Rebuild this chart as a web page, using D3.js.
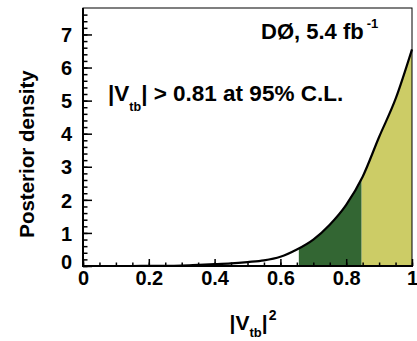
<!DOCTYPE html>
<html>
<head>
<meta charset="utf-8">
<script src="https://cdn.jsdelivr.net/npm/d3@7"></script>
<style>
  body { margin: 0; background: #fff; }
  svg text { font-family: "Liberation Sans", Arial, Helvetica, sans-serif; font-weight: bold; fill: #000; }
</style>
</head>
<body>
<div id="chart"></div>
<script>
// posterior density, |Vtb|^2 in steps of 0.05
const vtb2 = [0, 0.05, 0.1, 0.15, 0.2, 0.25, 0.3, 0.35, 0.4, 0.45, 0.5, 0.55, 0.6, 0.65, 0.7, 0.75, 0.8, 0.85, 0.9, 0.95, 1.0];
const density = [0, 0, 0, 0, 0.002, 0.005, 0.015, 0.035, 0.055, 0.08, 0.12, 0.17, 0.28, 0.5, 0.8, 1.25, 1.85, 2.7, 3.9, 5.05, 6.55];
// shaded bands: 95% C.L. (|Vtb| > 0.81) and inner band
const limit95 = 0.656;
const limitInner = 0.847;
const xTicks = [0, 0.2, 0.4, 0.6, 0.8, 1];
const yTicks = [0, 1, 2, 3, 4, 5, 6, 7];

const width = 417, height = 341;
const mLeft = 83, mRight = 412, mTop = 8, mBottom = 266;

const svg = d3.select('#chart').append('svg')
  .attr('width', width)
  .attr('height', height);

const x = d3.scaleLinear().domain([0, 1]).range([mLeft, mRight]);
const y = d3.scaleLinear().domain([0, 7.8]).range([mBottom, mTop]);

const pts = vtb2.map((v, i) => [v, density[i]]);

const area = d3.area()
  .x(d => x(d[0]))
  .y0(y(0))
  .y1(d => y(d[1]))
  .curve(d3.curveMonotoneX);

const line = d3.line()
  .x(d => x(d[0]))
  .y(d => y(d[1]))
  .curve(d3.curveMonotoneX);

const defs = svg.append('defs');
defs.append('clipPath').attr('id', 'band95')
  .append('rect')
  .attr('x', x(limit95)).attr('y', mTop)
  .attr('width', x(limitInner) - x(limit95)).attr('height', mBottom - mTop);
defs.append('clipPath').attr('id', 'bandInner')
  .append('rect')
  .attr('x', x(limitInner)).attr('y', mTop)
  .attr('width', x(1) - x(limitInner)).attr('height', mBottom - mTop);

svg.append('path')
  .datum(pts)
  .attr('d', area)
  .attr('fill', '#336633')
  .attr('clip-path', 'url(#band95)');

svg.append('path')
  .datum(pts)
  .attr('d', area)
  .attr('fill', '#cccc66')
  .attr('clip-path', 'url(#bandInner)');

// frame
svg.append('rect')
  .attr('x', mLeft).attr('y', mTop)
  .attr('width', mRight - mLeft).attr('height', mBottom - mTop)
  .attr('fill', 'none')
  .attr('stroke', '#000')
  .attr('stroke-width', 1);

svg.append('path')
  .datum(pts)
  .attr('d', line)
  .attr('fill', 'none')
  .attr('stroke', '#000')
  .attr('stroke-width', 2.2);

// x axis, ticks pointing inward
const xMinor = svg.append('g')
  .attr('transform', `translate(0,${mBottom})`)
  .call(d3.axisBottom(x).ticks(20).tickSize(-3.5).tickFormat(''));
const xMajor = svg.append('g')
  .attr('transform', `translate(0,${mBottom})`)
  .call(d3.axisBottom(x).tickValues(xTicks).tickSizeInner(-7).tickSizeOuter(0)
    .tickPadding(5).tickFormat(d => d === 0 || d === 1 ? d3.format('d')(d) : d3.format('.1f')(d)));

const yMinor = svg.append('g')
  .attr('transform', `translate(${mLeft},0)`)
  .call(d3.axisLeft(y).tickValues(d3.range(0, 39).map(i => i * 0.2)).tickSize(-4.5).tickFormat(''));
const yMajor = svg.append('g')
  .attr('transform', `translate(${mLeft},0)`)
  .call(d3.axisLeft(y).tickValues(yTicks).tickSizeInner(-9).tickSizeOuter(0).tickPadding(11).tickFormat(d3.format('d')));

[xMinor, xMajor, yMinor, yMajor].forEach(g => {
  g.selectAll('.domain').remove();
  g.selectAll('.tick line').attr('stroke', '#000').attr('stroke-width', 1.5);
});
xMajor.selectAll('.tick text').style('font-size', '20px').attr('dy', '0.72em');
yMajor.selectAll('.tick text').style('font-size', '20px').attr('dy', '0.36em');
yMajor.selectAll('.tick text').filter(d => d === 0).attr('dy', '0.1em');

// thick axis lines
svg.append('line')
  .attr('x1', mLeft).attr('x2', mLeft).attr('y1', mTop).attr('y2', mBottom + 1)
  .attr('stroke', '#000').attr('stroke-width', 2);
svg.append('line')
  .attr('x1', mLeft - 1).attr('x2', mRight + 1).attr('y1', mBottom).attr('y2', mBottom)
  .attr('stroke', '#000').attr('stroke-width', 2);

// axis titles
const xt = svg.append('text')
  .attr('x', 253).attr('y', 330)
  .attr('text-anchor', 'middle')
  .style('font-size', '21px');
xt.append('tspan').text('|V');
xt.append('tspan').text('tb').style('font-size', '13px').attr('dy', 7);
xt.append('tspan').text('|').attr('dy', -7);
xt.append('tspan').text('2').style('font-size', '14px').attr('dy', -10).attr('dx', 1);

svg.append('text')
  .attr('transform', 'translate(34,154) rotate(-90)')
  .attr('text-anchor', 'middle')
  .style('font-size', '20.5px')
  .text('Posterior density');

// labels
const lab1 = svg.append('text')
  .attr('x', 261).attr('y', 39)
  .style('font-size', '22px');
lab1.append('tspan').text('DØ, 5.4 fb');
lab1.append('tspan').text('-1').style('font-size', '13px').attr('dy', -11).attr('dx', 3);

const lab2 = svg.append('text')
  .attr('x', 108).attr('y', 101)
  .style('font-size', '22.5px');
lab2.append('tspan').text('|V');
lab2.append('tspan').text('tb').style('font-size', '12.5px').attr('dy', 10);
lab2.append('tspan').text('| > 0.81 at 95% C.L.').attr('dy', -10);
</script>
</body>
</html>
